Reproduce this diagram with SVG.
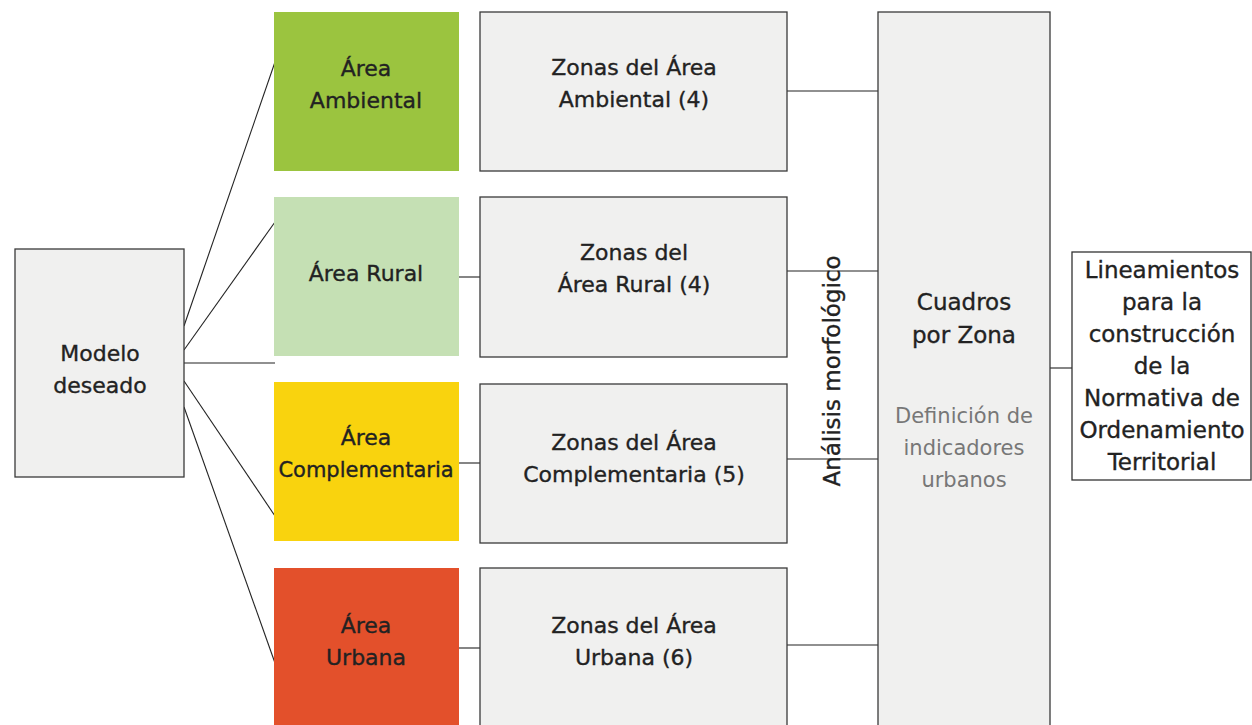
<svg xmlns="http://www.w3.org/2000/svg" width="1252" height="725" viewBox="0 0 1252 725">
<style>
.box{fill:#f0f0ef;stroke:#3a3a3a;stroke-width:1.3}
.wbox{fill:#fff;stroke:#333;stroke-width:1.3}
.t{font-family:"DejaVu Sans","Liberation Sans",sans-serif;font-size:22px;fill:#222;stroke:#222;stroke-width:0.35;text-anchor:middle}
.s{font-size:21px}
.b{font-size:23px}
.l{font-family:"DejaVu Sans","Liberation Sans",sans-serif;font-size:21px;fill:#777;text-anchor:middle}
.c line{stroke:#222;stroke-width:1.1}
</style>
<rect width="1252" height="725" fill="#fff"/>
<g class="c" id="connectors">
<line x1="184" y1="326" x2="275" y2="62"/>
<line x1="184" y1="350" x2="275" y2="222"/>
<line x1="184" y1="363" x2="275" y2="363"/>
<line x1="184" y1="381" x2="275" y2="516"/>
<line x1="184" y1="407" x2="275" y2="663"/>
<line x1="459" y1="277" x2="480" y2="277"/>
<line x1="459" y1="463" x2="480" y2="463"/>
<line x1="459" y1="648" x2="480" y2="648"/>
<line x1="787" y1="91" x2="878" y2="91"/>
<line x1="787" y1="271" x2="878" y2="271"/>
<line x1="787" y1="459" x2="878" y2="459"/>
<line x1="787" y1="645" x2="878" y2="645"/>
<line x1="1050" y1="368" x2="1072" y2="368"/>
</g>
<g id="modelo">
<rect class="box" x="15" y="249" width="169" height="228"/>
<text class="t" x="100" y="361">Modelo</text>
<text class="t" x="100" y="393">deseado</text>
</g>
<g id="area-ambiental">
<rect x="274" y="12" width="185" height="159" fill="#9bc43f"/>
<text class="t" x="366" y="76">Área</text>
<text class="t" x="366" y="108">Ambiental</text>
</g>
<g id="area-rural">
<rect x="274" y="197" width="185" height="159" fill="#c5e0b4"/>
<text class="t" x="366" y="281">Área Rural</text>
</g>
<g id="area-complementaria">
<rect x="274" y="382" width="185" height="159" fill="#f9d30e"/>
<text class="t" x="366" y="445">Área</text>
<text class="t s" x="366" y="477">Complementaria</text>
</g>
<g id="area-urbana">
<rect x="274" y="568" width="185" height="160" fill="#e3502b"/>
<text class="t" x="366" y="633">Área</text>
<text class="t" x="366" y="665">Urbana</text>
</g>
<g id="zonas-ambiental">
<rect class="box" x="480" y="12" width="307" height="159"/>
<text class="t" x="634" y="75">Zonas del Área</text>
<text class="t" x="634" y="107">Ambiental (4)</text>
</g>
<g id="zonas-rural">
<rect class="box" x="480" y="197" width="307" height="160"/>
<text class="t" x="634" y="260">Zonas del</text>
<text class="t" x="634" y="292">Área Rural (4)</text>
</g>
<g id="zonas-complementaria">
<rect class="box" x="480" y="384" width="307" height="159"/>
<text class="t" x="634" y="450">Zonas del Área</text>
<text class="t" x="634" y="482">Complementaria (5)</text>
</g>
<g id="zonas-urbana">
<rect class="box" x="480" y="568" width="307" height="162"/>
<text class="t" x="634" y="633">Zonas del Área</text>
<text class="t" x="634" y="665">Urbana (6)</text>
</g>
<g id="analisis">
<text class="t b" transform="translate(840,371) rotate(-90)">Análisis morfológico</text>
</g>
<g id="cuadros">
<rect class="box" x="878" y="12" width="172" height="720"/>
<text class="t b" x="964" y="310">Cuadros</text>
<text class="t b" x="964" y="343">por Zona</text>
<text class="l" x="964" y="423">Definición de</text>
<text class="l" x="964" y="455">indicadores</text>
<text class="l" x="964" y="487">urbanos</text>
</g>
<g id="lineamientos">
<rect class="wbox" x="1072" y="252" width="179" height="228"/>
<text class="t b" x="1162" y="278">Lineamientos</text>
<text class="t b" x="1162" y="310">para la</text>
<text class="t b" x="1162" y="342">construcción</text>
<text class="t b" x="1162" y="374">de la</text>
<text class="t b" x="1162" y="406">Normativa de</text>
<text class="t b" x="1162" y="438">Ordenamiento</text>
<text class="t b" x="1162" y="470">Territorial</text>
</g>
</svg>
